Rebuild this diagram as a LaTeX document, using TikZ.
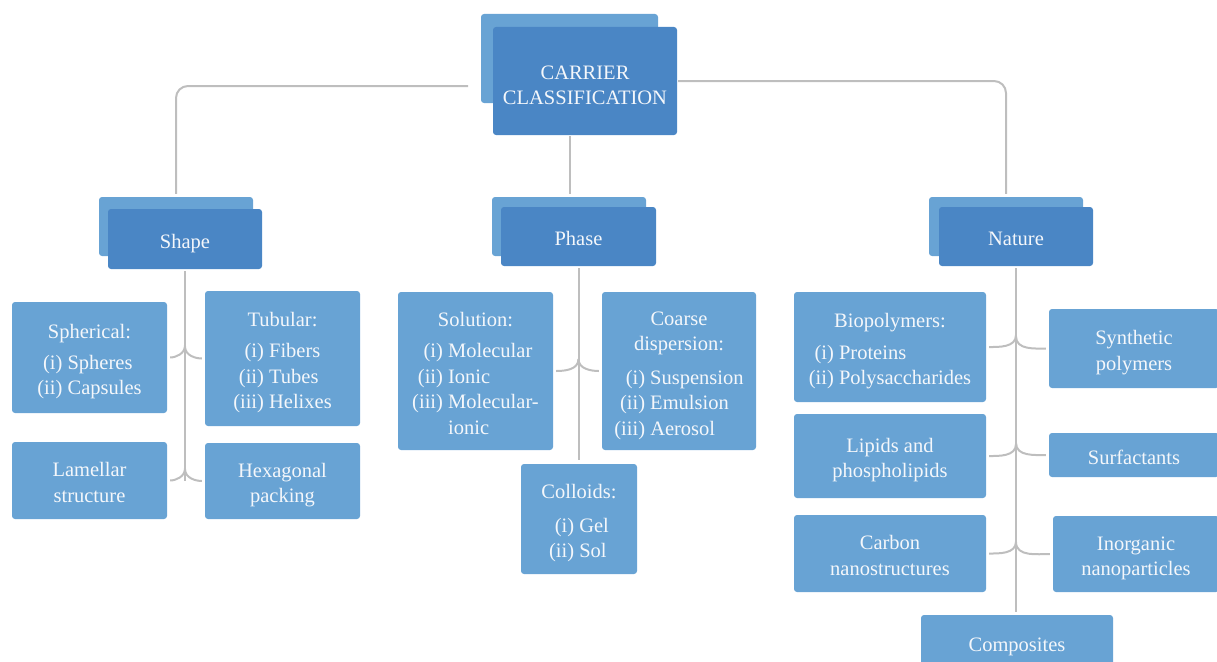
\documentclass[tikz,border=0pt]{standalone}
\usepackage{fontspec}
\setmainfont{Liberation Serif}
\usetikzlibrary{calc}
\definecolor{darkb}{RGB}{74,134,197}
\definecolor{lightb}{RGB}{104,163,212}
\definecolor{connc}{RGB}{190,190,190}
\definecolor{txtc}{RGB}{244,247,251}
\newcommand{\itm}[1]{\begin{tabular}[t]{@{}r@{\ }l@{}}#1\end{tabular}}
\newcommand{\tx}[2][4pt]{\raisebox{-#1}[\height][\depth]{\begin{tabular}{@{}c@{}}#2\end{tabular}}}
\tikzset{
  basebox/.style={rounded corners=3pt, inner sep=0pt, align=center, text=txtc,
    font=\fontsize{20.5}{25.5}\selectfont},
  dk/.style={basebox, fill=darkb},
  lt/.style={basebox, fill=lightb},
  link/.style={draw=connc, line width=2pt},
}
\begin{document}
\begin{tikzpicture}[x=1pt,y=-1pt]
\useasboundingbox (0,0) rectangle (1217,661);
\clip (0,0) rectangle (1217,661);

% root
\node[lt, minimum width=177pt, minimum height=89pt] (rootb) at (569.5,58.5) {};
\node[dk, minimum width=184pt, minimum height=108pt] (root) at (585,81) {\tx[6pt]{CARRIER\\CLASSIFICATION}};

% level 1
\node[lt, minimum width=154pt, minimum height=59pt] (shapeb) at (176,226.5) {};
\node[dk, minimum width=154pt, minimum height=60pt] (shape) at (185,239) {\tx{Shape}};
\node[lt, minimum width=154pt, minimum height=59pt] (phaseb) at (569,226.5) {};
\node[dk, minimum width=155pt, minimum height=59pt] (phase) at (578.5,236.5) {\tx{Phase}};
\node[lt, minimum width=154pt, minimum height=59pt] (natureb) at (1006,226.5) {};
\node[dk, minimum width=154pt, minimum height=59pt] (nature) at (1016,236.5) {\tx{Nature}};

% shape leaves
\node[lt, minimum width=155pt, minimum height=111pt] (sph) at (89.5,357.5)
  {\tx{Spherical:\\[5pt]\itm{(i)&Spheres\\(ii)&Capsules}}};
\node[lt, minimum width=155pt, minimum height=135pt] (tub) at (282.5,358.5)
  {\tx{Tubular:\\[6pt]\itm{(i)&Fibers\\(ii)&Tubes\\(iii)&Helixes}}};
\node[lt, minimum width=155pt, minimum height=77pt] (lam) at (89.5,480.5) {\tx{Lamellar\\structure}};
\node[lt, minimum width=155pt, minimum height=76pt] (hex) at (282.5,481) {\tx{Hexagonal\\packing}};

% phase leaves
\node[lt, minimum width=155pt, minimum height=158pt] (sol) at (475.5,371)
  {\tx{Solution:\\[6pt]\itm{(i)&Molecular\\(ii)&Ionic\\(iii)&Molecular-\\&ionic}}};
\node[lt, minimum width=154pt, minimum height=158pt] (coa) at (679,371)
  {\tx{Coarse\\dispersion:\\[8pt]\itm{(i)&Suspension\\(ii)&Emulsion\\(iii)&Aerosol}}};
\node[lt, minimum width=116pt, minimum height=110pt] (col) at (579,519)
  {\tx{Colloids:\\[8pt]\itm{(i)&Gel\\(ii)&Sol}}};

% nature leaves
\node[lt, minimum width=192pt, minimum height=110pt] (bio) at (890,347)
  {\tx{Biopolymers:\\[6pt]\itm{(i)&Proteins\\(ii)&Polysaccharides}}};
\node[lt, minimum width=170pt, minimum height=79pt] (syn) at (1134,348.5) {\tx{Synthetic\\polymers}};
\node[lt, minimum width=192pt, minimum height=84pt] (lip) at (890,456) {\tx{Lipids and\\phospholipids}};
\node[lt, minimum width=170pt, minimum height=44pt] (sur) at (1134,455) {\tx{Surfactants}};
\node[lt, minimum width=192pt, minimum height=77pt] (car) at (890,553.5) {\tx{Carbon\\nanostructures}};
\node[lt, minimum width=166pt, minimum height=76pt] (ino) at (1136,554) {\tx{Inorganic\\nanoparticles}};
\node[lt, minimum width=192pt, minimum height=54pt] (comp) at (1017,642) {\tx{Composites}};

% top connectors
\coordinate (lstart) at (468,86);
\draw[link, rounded corners=12pt, shorten >=3pt] (lstart) -| (shapeb.north);
\draw[link, rounded corners=12pt, shorten <=1pt, shorten >=3pt] (root.east) -| (natureb.north);
\draw[link, shorten <=1pt, shorten >=3pt] (rootb.south |- root.south) -- (rootb.south |- phaseb.north);

% trunks
\draw[link, shorten <=2pt] (shape.south) -- (lam.east -| shape.south);
\draw[link, shorten <=2pt, shorten >=4pt] (phase.south) -- (col.north -| phase.south);
\draw[link, shorten <=2pt, shorten >=3pt] (nature.south) -- (comp.north -| nature.south);

% forks
\draw[link, shorten <=3pt] (sph.east) to[out=0,in=-90] ([yshift=12pt]sph.east -| shape.south);
\draw[link, shorten <=3pt] (tub.west) to[out=180,in=-90] ([yshift=12pt]tub.west -| shape.south);
\draw[link, shorten <=3pt] (lam.east) to[out=0,in=-90] ([yshift=12pt]lam.east -| shape.south);
\draw[link, shorten <=3pt] (hex.west) to[out=180,in=-90] ([yshift=12pt]hex.west -| shape.south);

\draw[link, shorten <=3pt] (sol.east) to[out=0,in=-90] ([yshift=12pt]sol.east -| phase.south);
\draw[link, shorten <=3pt] (coa.west) to[out=180,in=-90] ([yshift=12pt]coa.west -| phase.south);

\draw[link, shorten <=3pt] (bio.east) to[out=0,in=-90] ([yshift=12pt]bio.east -| nature.south);
\draw[link, shorten <=3pt] (syn.west) to[out=180,in=-90] ([yshift=12pt]syn.west -| nature.south);
\draw[link, shorten <=3pt] (lip.east) to[out=0,in=-90] ([yshift=12pt]lip.east -| nature.south);
\draw[link, shorten <=3pt] (sur.west) to[out=180,in=-90] ([yshift=12pt]sur.west -| nature.south);
\draw[link, shorten <=3pt] (car.east) to[out=0,in=-90] ([yshift=12pt]car.east -| nature.south);
\draw[link, shorten <=3pt] (ino.west) to[out=180,in=-90] ([yshift=12pt]ino.west -| nature.south);
\end{tikzpicture}
\end{document}
